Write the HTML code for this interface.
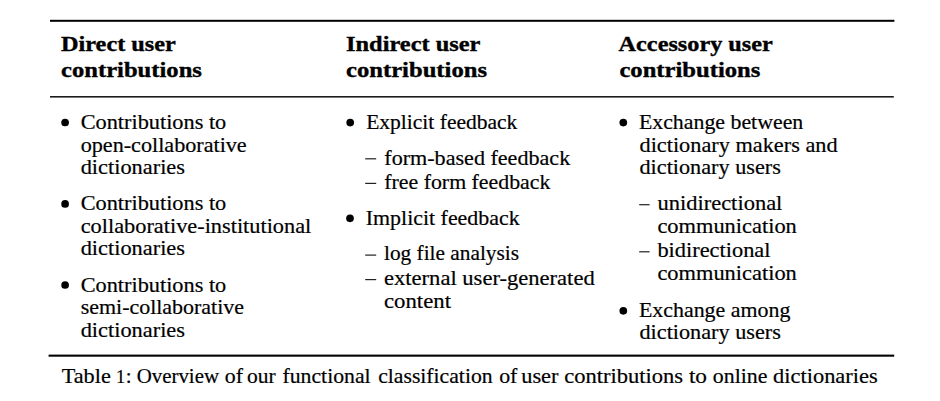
<!DOCTYPE html>
<html><head><meta charset="utf-8"><style>
html,body{margin:0;padding:0;background:#fff;width:940px;height:401px;overflow:hidden}
svg{display:block}
text{font-family:"Liberation Serif",serif;font-size:21px;fill:#000;stroke:#000;stroke-width:0.2px}
text[font-weight]{stroke-width:0.35px}
</style></head><body>
<svg width="940" height="401" viewBox="0 0 940 401">
<rect x="50" y="19.8" width="844.4" height="2" fill="#000"/>
<rect x="50" y="96" width="843.8" height="1.6" fill="#1c1c1c"/>
<rect x="48.6" y="354.6" width="845.6" height="2.1" fill="#000"/>
<circle cx="65.1" cy="122.5" r="3.85" fill="#000"/>
<circle cx="65.1" cy="203.9" r="3.85" fill="#000"/>
<circle cx="65.1" cy="285.0" r="3.85" fill="#000"/>
<circle cx="350.2" cy="122.6" r="3.85" fill="#000"/>
<circle cx="350.0" cy="218.3" r="3.85" fill="#000"/>
<circle cx="623.3" cy="122.6" r="3.85" fill="#000"/>
<circle cx="623.3" cy="310.8" r="3.85" fill="#000"/>
<rect x="365.2" y="158.20" width="11.00" height="1.2" fill="#222"/>
<rect x="365.2" y="182.80" width="11.00" height="1.2" fill="#222"/>
<rect x="365.2" y="254.50" width="11.00" height="1.2" fill="#222"/>
<rect x="365.2" y="279.00" width="11.00" height="1.2" fill="#222"/>
<rect x="639.2" y="204.10" width="10.40" height="1.2" fill="#222"/>
<rect x="639.2" y="251.20" width="10.40" height="1.2" fill="#222"/>
<text x="61.00" y="50.60" font-weight="bold" textLength="114.80" lengthAdjust="spacingAndGlyphs">Direct user</text>
<text x="61.00" y="76.80" font-weight="bold" textLength="140.90" lengthAdjust="spacingAndGlyphs">contributions</text>
<text x="346.00" y="50.60" font-weight="bold" textLength="134.40" lengthAdjust="spacingAndGlyphs">Indirect user</text>
<text x="346.00" y="76.80" font-weight="bold" textLength="141.00" lengthAdjust="spacingAndGlyphs">contributions</text>
<text x="618.60" y="50.60" font-weight="bold" textLength="154.20" lengthAdjust="spacingAndGlyphs">Accessory user</text>
<text x="619.40" y="76.80" font-weight="bold" textLength="141.00" lengthAdjust="spacingAndGlyphs">contributions</text>
<text x="80.70" y="128.80" textLength="145.60" lengthAdjust="spacingAndGlyphs">Contributions to</text>
<text x="80.70" y="151.50" textLength="166.00" lengthAdjust="spacingAndGlyphs">open-collaborative</text>
<text x="80.70" y="174.10" textLength="104.30" lengthAdjust="spacingAndGlyphs">dictionaries</text>
<text x="80.70" y="210.30" textLength="145.60" lengthAdjust="spacingAndGlyphs">Contributions to</text>
<text x="80.70" y="232.80" textLength="230.60" lengthAdjust="spacingAndGlyphs">collaborative-institutional</text>
<text x="80.70" y="255.40" textLength="104.30" lengthAdjust="spacingAndGlyphs">dictionaries</text>
<text x="80.70" y="291.60" textLength="145.60" lengthAdjust="spacingAndGlyphs">Contributions to</text>
<text x="80.70" y="314.30" textLength="163.30" lengthAdjust="spacingAndGlyphs">semi-collaborative</text>
<text x="80.70" y="336.80" textLength="104.30" lengthAdjust="spacingAndGlyphs">dictionaries</text>
<text x="366.20" y="128.80" textLength="151.20" lengthAdjust="spacingAndGlyphs">Explicit feedback</text>
<text x="384.30" y="164.80" textLength="185.90" lengthAdjust="spacingAndGlyphs">form-based feedback</text>
<text x="384.30" y="189.30" textLength="166.10" lengthAdjust="spacingAndGlyphs">free form feedback</text>
<text x="365.80" y="225.00" textLength="153.80" lengthAdjust="spacingAndGlyphs">Implicit feedback</text>
<text x="384.00" y="260.20" textLength="135.00" lengthAdjust="spacingAndGlyphs">log file analysis</text>
<text x="384.00" y="285.10" textLength="210.70" lengthAdjust="spacingAndGlyphs">external user-generated</text>
<text x="384.00" y="307.80" textLength="67.00" lengthAdjust="spacingAndGlyphs">content</text>
<text x="638.90" y="128.80" textLength="164.40" lengthAdjust="spacingAndGlyphs">Exchange between</text>
<text x="639.50" y="151.50" textLength="198.10" lengthAdjust="spacingAndGlyphs">dictionary makers and</text>
<text x="639.50" y="174.20" textLength="141.30" lengthAdjust="spacingAndGlyphs">dictionary users</text>
<text x="657.40" y="210.10" textLength="125.00" lengthAdjust="spacingAndGlyphs">unidirectional</text>
<text x="657.40" y="233.00" textLength="139.40" lengthAdjust="spacingAndGlyphs">communication</text>
<text x="657.40" y="257.40" textLength="113.10" lengthAdjust="spacingAndGlyphs">bidirectional</text>
<text x="657.40" y="280.40" textLength="139.40" lengthAdjust="spacingAndGlyphs">communication</text>
<text x="638.90" y="316.80" textLength="151.50" lengthAdjust="spacingAndGlyphs">Exchange among</text>
<text x="639.50" y="339.20" textLength="141.30" lengthAdjust="spacingAndGlyphs">dictionary users</text>
<text x="61.70" y="382.60" textLength="49.10" lengthAdjust="spacingAndGlyphs">Table</text>
<text x="115.90" y="382.60" style="font-size:18px" textLength="9.20" lengthAdjust="spacingAndGlyphs">1</text>
<text x="125.80" y="382.60">:</text>
<text x="136.70" y="382.60" textLength="82.30" lengthAdjust="spacingAndGlyphs">Overview</text>
<text x="224.80" y="382.60" textLength="18.20" lengthAdjust="spacingAndGlyphs">of</text>
<text x="246.90" y="382.60" textLength="28.70" lengthAdjust="spacingAndGlyphs">our</text>
<text x="282.50" y="382.60" textLength="88.10" lengthAdjust="spacingAndGlyphs">functional</text>
<text x="378.20" y="382.60" textLength="114.40" lengthAdjust="spacingAndGlyphs">classification</text>
<text x="499.20" y="382.60" textLength="18.20" lengthAdjust="spacingAndGlyphs">of</text>
<text x="521.20" y="382.60" textLength="37.30" lengthAdjust="spacingAndGlyphs">user</text>
<text x="564.30" y="382.60" textLength="118.80" lengthAdjust="spacingAndGlyphs">contributions</text>
<text x="688.90" y="382.60" textLength="18.10" lengthAdjust="spacingAndGlyphs">to</text>
<text x="712.80" y="382.60" textLength="54.60" lengthAdjust="spacingAndGlyphs">online</text>
<text x="773.10" y="382.60" textLength="104.60" lengthAdjust="spacingAndGlyphs">dictionaries</text>
</svg>
</body></html>
